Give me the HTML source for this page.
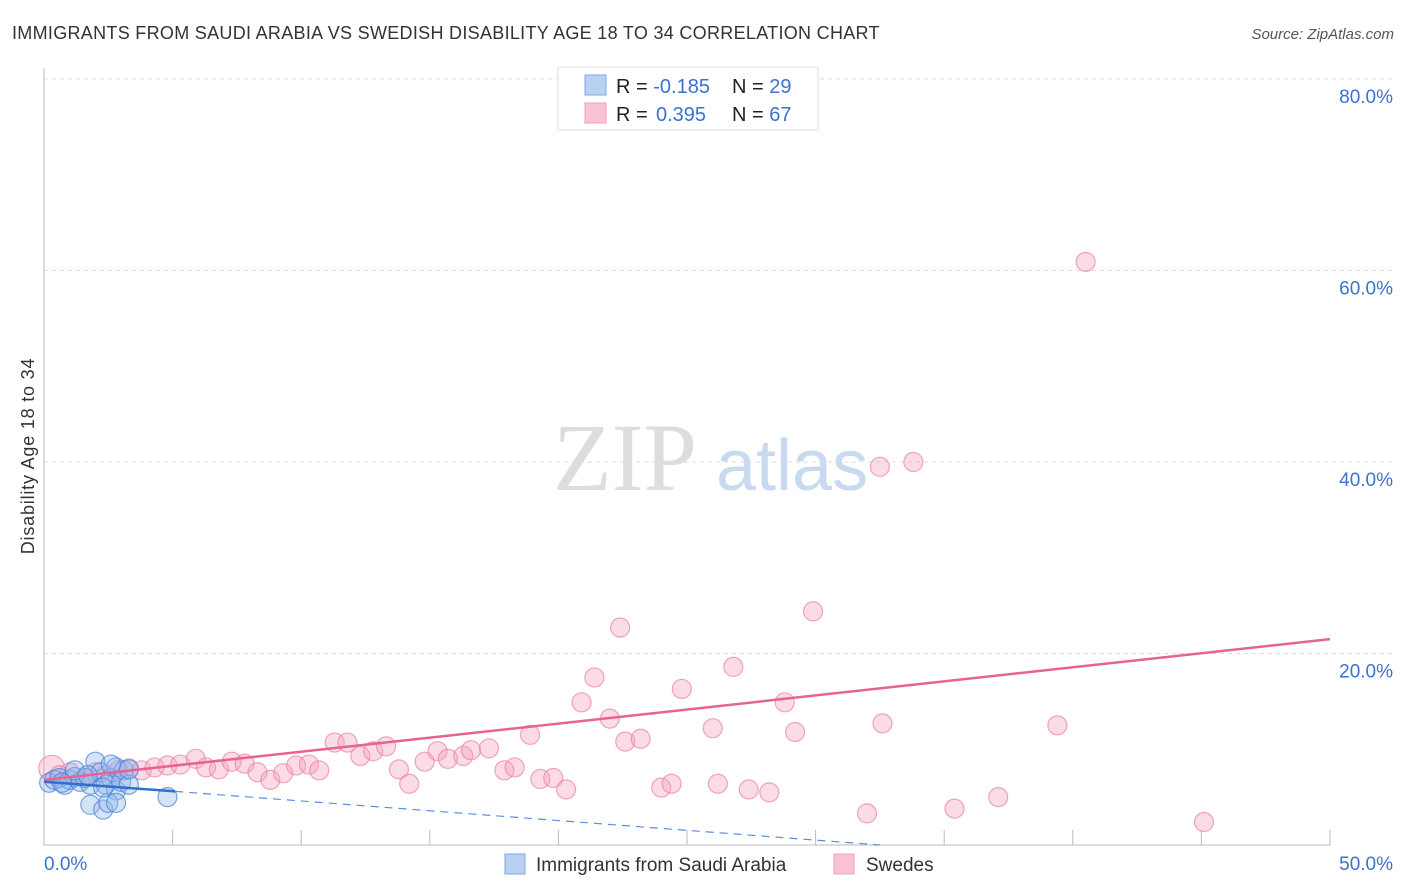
<!DOCTYPE html>
<html><head><meta charset="utf-8"><style>
body{margin:0;background:#fff;font-family:"Liberation Sans",sans-serif;}
#c{position:absolute;left:0;top:0;}
</style></head><body>
<svg id="c" width="1406" height="892" xmlns="http://www.w3.org/2000/svg">
<text x="12" y="39" font-size="18" letter-spacing="0.3" fill="#333">IMMIGRANTS FROM SAUDI ARABIA VS SWEDISH DISABILITY AGE 18 TO 34 CORRELATION CHART</text>
<text x="1394" y="39" font-size="15" fill="#555" font-style="italic" text-anchor="end">Source: ZipAtlas.com</text>
<text x="34" y="456" font-size="18" letter-spacing="0.8" fill="#333" text-anchor="middle" transform="rotate(-90 34 456)">Disability Age 18 to 34</text>
<g><text x="553" y="490" font-size="96" font-family="Liberation Serif,serif" fill="#ddd">ZIP</text><text x="716" y="490" font-size="72" fill="#c9daf0">atlas</text></g>
<g id="grid"></g><g id="ticks"></g><g id="pts"></g><g id="lines"></g>
<g>
<rect x="558" y="67" width="260" height="63" fill="#fff" stroke="#ddd"/>
<rect x="585" y="75" width="21" height="20" fill="#b8d1f3" stroke="#7fa8e0"/>
<rect x="585" y="103" width="21" height="20" fill="#f9c3d3" stroke="#eea0b8"/>
<text x="616" y="93" font-size="20" fill="#222">R = <tspan fill="#3b72d0">-0.185</tspan><tspan x="732">N = </tspan><tspan fill="#3b72d0">29</tspan></text>
<text x="616" y="121" font-size="20" fill="#222">R = <tspan fill="#3b72d0" x="656">0.395</tspan><tspan x="732">N = </tspan><tspan fill="#3b72d0">67</tspan></text>
</g>
<g>
<rect x="505" y="854" width="20" height="20" fill="#b8d1f3" stroke="#7fa8e0"/>
<text x="536" y="871" font-size="19" fill="#333">Immigrants from Saudi Arabia</text>
<rect x="834" y="854" width="20" height="20" fill="#f9c3d3" stroke="#eea0b8"/>
<text x="866" y="871" font-size="19" fill="#333">Swedes</text>
</g>
</svg>
<script>
const xTicks=[0,50];
const yTicks=[20,40,60,80];
const pinkX=[0.3,0.6,1.0,1.6,2.0,2.4,2.9,3.3,3.8,4.3,4.8,5.3,5.9,6.3,6.8,7.3,7.8,8.3,8.8,9.3,9.8,10.3,10.7,11.3,11.8,12.3,12.8,13.3,13.8,14.2,14.8,15.3,15.7,16.3,16.6,17.3,17.9,18.3,18.9,19.3,19.8,20.3,20.9,21.4,22.0,22.4,22.6,23.2,24.0,24.4,24.8,26.0,26.2,26.8,27.4,28.2,28.8,29.2,29.9,32.0,32.5,32.6,33.8,35.4,37.1,39.4,40.5,45.1];
const pinkY=[8.0,7.3,7.6,7.0,7.6,7.3,7.8,8.0,7.8,8.1,8.3,8.4,9.0,8.1,7.9,8.7,8.5,7.6,6.8,7.5,8.3,8.4,7.8,10.7,10.7,9.3,9.8,10.3,7.9,6.4,8.7,9.8,9.0,9.3,9.9,10.1,7.8,8.1,11.5,6.9,7.0,5.8,14.9,17.5,13.2,22.7,10.8,11.1,6.0,6.4,16.3,12.2,6.4,18.6,5.8,5.5,14.9,11.8,24.4,3.3,39.5,12.7,40.0,3.8,5.0,12.5,60.9,2.4];
const blueX=[0.2,0.4,0.6,0.8,1.0,1.2,1.4,1.6,1.8,2.0,2.2,2.4,2.6,2.8,2.8,3.0,3.1,3.3,1.8,2.3,2.5,2.8,2.3,3.3,4.8,1.2,0.7,1.7,2.6];
const blueY=[6.5,6.8,7.0,6.3,6.8,7.1,6.6,7.0,6.3,8.7,7.6,6.3,7.0,5.7,8.1,6.6,7.8,6.3,4.2,3.7,4.4,4.4,6.0,7.9,5.0,7.8,6.5,7.3,8.4];
const pinkTrend=[6.8,21.5];
const blueTrend=[6.6,5.6,5.1,32.5];
const NS="http://www.w3.org/2000/svg";
const X=v=>44+v*25.72, Y=v=>845-v*9.575;
function mk(t,a,p){const e=document.createElementNS(NS,t);for(const k in a)e.setAttribute(k,a[k]);p.appendChild(e);return e;}
const grid=document.getElementById('grid'),ticks=document.getElementById('ticks'),pts=document.getElementById('pts'),lines=document.getElementById('lines');
yTicks.forEach(v=>{
 const l=mk('line',{x1:44,x2:1394,y1:Y(v),y2:Y(v),stroke:'#ddd','stroke-dasharray':'4,4'},grid);
 
 
 const t=mk('text',{x:1393,y:Y(v)+24,'font-size':19,fill:'#3b72d0','text-anchor':'end'},grid);t.textContent=v.toFixed(1)+'%';
 
 
});
const ax=mk('line',{x1:44,x2:1330,y1:845,y2:845,stroke:'#bbb'},ticks);


const ay=mk('line',{x1:44,x2:44,y1:68,y2:845,stroke:'#bbb'},ticks);


for(let v=5;v<=50;v+=5){const m=mk('line',{x1:X(v),x2:X(v),y1:830,y2:845,stroke:'#bbb'},ticks);
 
 }
xTicks.forEach((v,i)=>{const t=mk('text',{x:i?1393:44,y:870,'font-size':19,fill:'#3b72d0','text-anchor':i?'end':'start'},ticks);t.textContent=v.toFixed(1)+'%';
 
 });
pinkX.forEach((x,i)=>{const c=mk('circle',{cx:X(x),cy:Y(pinkY[i]),r:i==0?13:9.5,fill:'rgba(244,160,188,0.38)',stroke:'rgba(232,130,165,0.7)','stroke-width':1.2},pts);
 
 });
blueX.forEach((x,i)=>{const c=mk('circle',{cx:X(x),cy:Y(blueY[i]),r:9.5,fill:'rgba(150,185,235,0.4)',stroke:'rgba(80,135,215,0.75)','stroke-width':1.2},pts);
 
 });
const pl=mk('line',{x1:X(0),y1:Y(pinkTrend[0]),x2:X(50),y2:Y(pinkTrend[1]),stroke:'#e8638f','stroke-width':2.5},lines);


const bl=mk('line',{x1:X(0),y1:Y(blueTrend[0]),x2:X(blueTrend[2]),y2:Y(blueTrend[1]),stroke:'#2f6fd0','stroke-width':2.5},lines);


const bd=mk('line',{x1:X(blueTrend[2]),y1:Y(blueTrend[1]),x2:X(blueTrend[3]),y2:Y(0),stroke:'#5a8ede','stroke-width':1.2,'stroke-dasharray':'8,6'},lines);


</script>
</body></html>
